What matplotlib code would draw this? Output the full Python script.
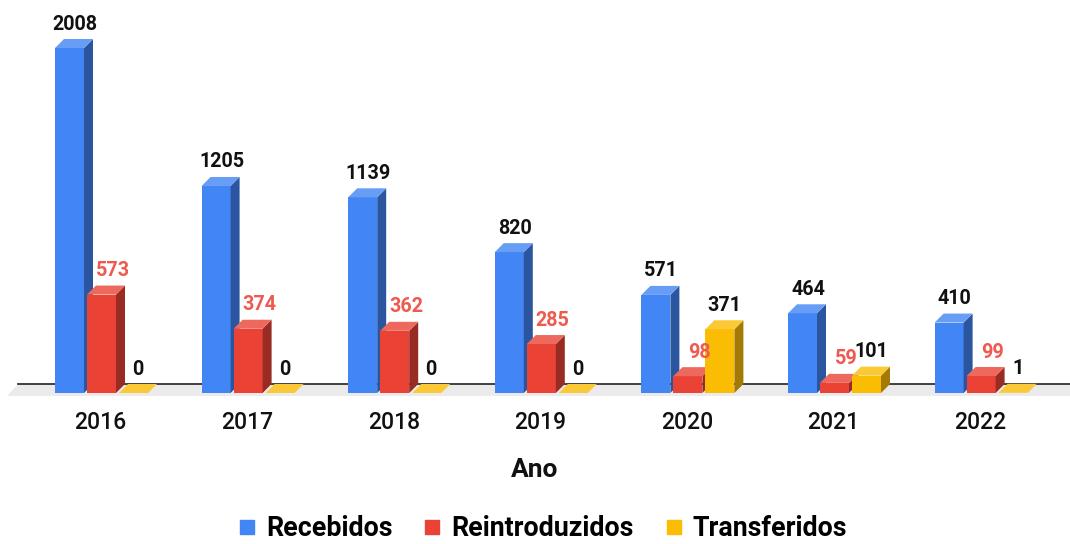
import numpy as np
import matplotlib
matplotlib.use('Agg')
import matplotlib.pyplot as plt
from matplotlib.patches import Polygon
from matplotlib.lines import Line2D
from matplotlib.colors import to_rgb

plt.rcParams['font.family'] = ['Roboto', 'DejaVu Sans']

# data
anos = ['2016', '2017', '2018', '2019', '2020', '2021', '2022']
recebidos = [2008, 1205, 1139, 820, 571, 464, 410]
reintroduzidos = [573, 374, 362, 285, 98, 59, 99]
transferidos = [0, 0, 0, 0, 371, 101, 1]

series = [('Recebidos', recebidos, '#4285f4', '#111111'),
          ('Reintroduzidos', reintroduzidos, '#ea4335', '#ef5a50'),
          ('Transferidos', transferidos, '#fbbc04', '#111111')]

W, H = 1070, 544
fig = plt.figure(figsize=(W / 100, H / 100), dpi=100)

# pixel layout helpers (group spacing, value scale)
gpx = 146.6          # px per group
vpx = 345 / 2008.0   # px per unit value
x0px = 100.5         # px of first group centre
base_py = 393        # front baseline, px from top
ax_bot_py = 396

ax = fig.add_axes([0, (H - ax_bot_py) / H, 1, ax_bot_py / H])
ax.set_xlim(-x0px / gpx, (W - x0px) / gpx)
ax.set_ylim((base_py - ax_bot_py) / vpx, base_py / vpx)
for s in ax.spines.values():
    s.set_visible(False)
ax.set_yticks([])

bw = 29 / gpx
step = 32 / gpx
left0 = -45.5 / gpx
dx = 9 / gpx
dy = 9 / vpx


def shade(c, f):
    r = np.array(to_rgb(c))
    return tuple(r * f)


def tint(c, f):
    r = np.array(to_rgb(c))
    return tuple(r + (1 - r) * f)


# floor
fl_front = (base_py - 396) / vpx
fl_back = (base_py - 383.5) / vpx
fl_left = (7 - x0px) / gpx
fl_slant = 11 / gpx
xr = (W + 20 - x0px) / gpx
ax.add_patch(Polygon([(fl_left, fl_front), (xr, fl_front), (xr, fl_back),
                      (fl_left + fl_slant, fl_back)],
                     closed=True, facecolor='#ebebeb', edgecolor='none', zorder=1))
ax.plot([fl_left + fl_slant, xr], [fl_back, fl_back], color='#333333', lw=1.3, zorder=2)

lab_dx = [1, 7, 0]
for k, (name, vals, col, lcol) in enumerate(series):
    for i, v in enumerate(vals):
        l = i + left0 + k * step
        r = l + bw
        # front
        ax.add_patch(Polygon([(l, 0), (r, 0), (r, v), (l, v)], closed=True,
                             facecolor=col, edgecolor='none', zorder=3))
        # side
        ax.add_patch(Polygon([(r, 0), (r + dx, dy), (r + dx, v + dy), (r, v)], closed=True,
                             facecolor=shade(col, 0.65), edgecolor='none', zorder=3))
        # top
        ax.add_patch(Polygon([(l, v), (r, v), (r + dx, v + dy), (l + dx, v + dy)], closed=True,
                             facecolor=tint(col, 0.2), edgecolor='none', zorder=3))
        ax.annotate(str(v), xy=((l + r + dx) / 2, v), xytext=(lab_dx[k] * 0.72, 13.3),
                    textcoords='offset points', ha='center', va='baseline',
                    fontsize=14.2, fontweight='bold', color=lcol, zorder=5,
                    annotation_clip=False)

ax.set_xticks(np.arange(len(anos)))
ax.set_xticklabels(anos, fontsize=16.5, fontweight='medium', color='#111111')
ax.tick_params(axis='x', length=0, pad=11)
ax.set_xlabel('Ano', fontsize=19, fontweight='bold', color='#111111', labelpad=17)

handles = [Line2D([], [], marker='s', linestyle='none', markersize=10,
                  markerfacecolor=c, markeredgecolor=c) for _, _, c, _ in series]
fig.legend(handles, [s[0] for s in series], loc='center', bbox_to_anchor=(0.505, 0.028),
           ncol=3, frameon=False, prop={'size': 19.3, 'weight': 'bold'},
           handletextpad=0.2, columnspacing=1.0, handlelength=1.0, borderpad=0.1)

fig.savefig('out.png', dpi=100)
